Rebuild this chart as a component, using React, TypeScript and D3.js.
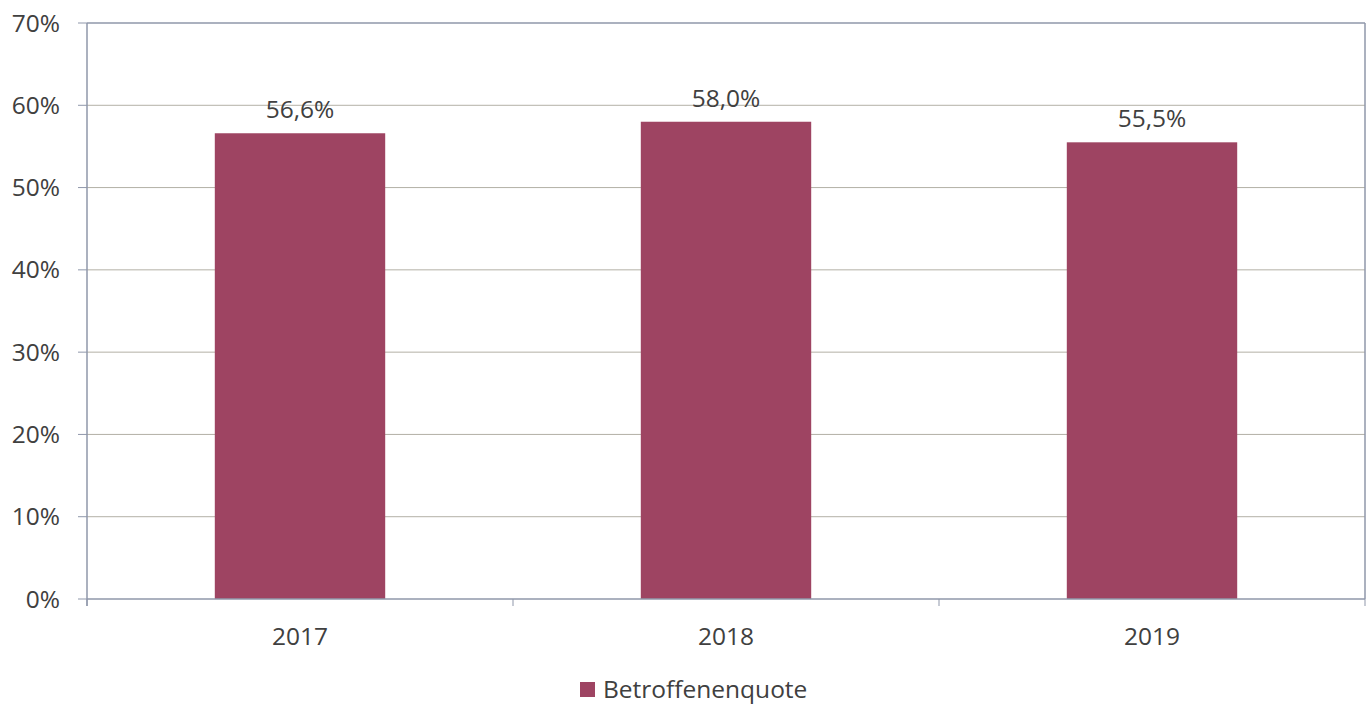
import React from "react";
import * as d3 from "d3";

const categories = ["2017", "2018", "2019"];
const values = [56.6, 58.0, 55.5];
const yTicks = [0, 10, 20, 30, 40, 50, 60, 70];
const seriesName = "Betroffenenquote";

const W = 1368, H = 704;
const left = 87, right = 1365, top = 23, bottom = 599;
const barColor = "#9e4462";
const axisColor = "#8f97aa";
const gridColor = "#b3b0a6";
const textColor = "#404040";
const font = "'Open Sans', 'Noto Sans', sans-serif";
const fs = 24.5;

export default function App() {
  const x = d3.scaleBand<string>().domain(categories).range([left, right]).paddingInner(0).paddingOuter(0);
  const y = d3.scaleLinear().domain([0, 70]).range([bottom, top]);
  const bw = x.bandwidth() * 0.4;
  const fmt = (v: number) => v.toFixed(1).replace(".", ",") + "%";
  const boundaries = [left, ...categories.map((c) => (x(c) as number) + x.bandwidth())];
  return (
    <svg width={W} height={H} style={{ position: "absolute", left: 0, top: 0, background: "#fff" }}>
      {yTicks.map((t) => (
        <g key={t}>
          {t > 0 && t < 70 && (
            <line x1={left} x2={right} y1={y(t)} y2={y(t)} stroke={gridColor} strokeWidth={1} />
          )}
          <line x1={left - 9} x2={left} y1={y(t)} y2={y(t)} stroke={axisColor} strokeWidth={1} />
          <text x={60} y={y(t)} dy="0.35em" textAnchor="end" fontFamily={font} fontSize={fs} fill={textColor}>
            {t}%
          </text>
        </g>
      ))}
      <line x1={left} x2={right} y1={top} y2={top} stroke={axisColor} strokeWidth={1.5} />
      <line x1={right} x2={right} y1={top} y2={bottom} stroke={axisColor} strokeWidth={1.5} />
      {categories.map((c, i) => {
        const cx = (x(c) as number) + x.bandwidth() / 2;
        return (
          <g key={c}>
            <rect x={cx - bw / 2} y={y(values[i])} width={bw} height={bottom - y(values[i])} fill={barColor} />
            <text x={cx} y={y(values[i]) - 15} textAnchor="middle" fontFamily={font} fontSize={fs} fill={textColor}>
              {fmt(values[i])}
            </text>
            <text x={cx} y={645} textAnchor="middle" fontFamily={font} fontSize={fs} fill={textColor}>
              {c}
            </text>
          </g>
        );
      })}
      <line x1={left} x2={left} y1={top} y2={bottom + 7} stroke={axisColor} strokeWidth={1.5} />
      <line x1={left} x2={right} y1={bottom} y2={bottom} stroke={axisColor} strokeWidth={1.5} />
      {boundaries.map((b, i) => (
        <line key={i} x1={b} x2={b} y1={bottom} y2={bottom + 7} stroke={axisColor} strokeWidth={1} />
      ))}
      <rect x={580} y={682} width={15} height={15} fill={barColor} />
      <text x={603} y={698} fontFamily={font} fontSize={fs} fill={textColor}>
        {seriesName}
      </text>
    </svg>
  );
}
